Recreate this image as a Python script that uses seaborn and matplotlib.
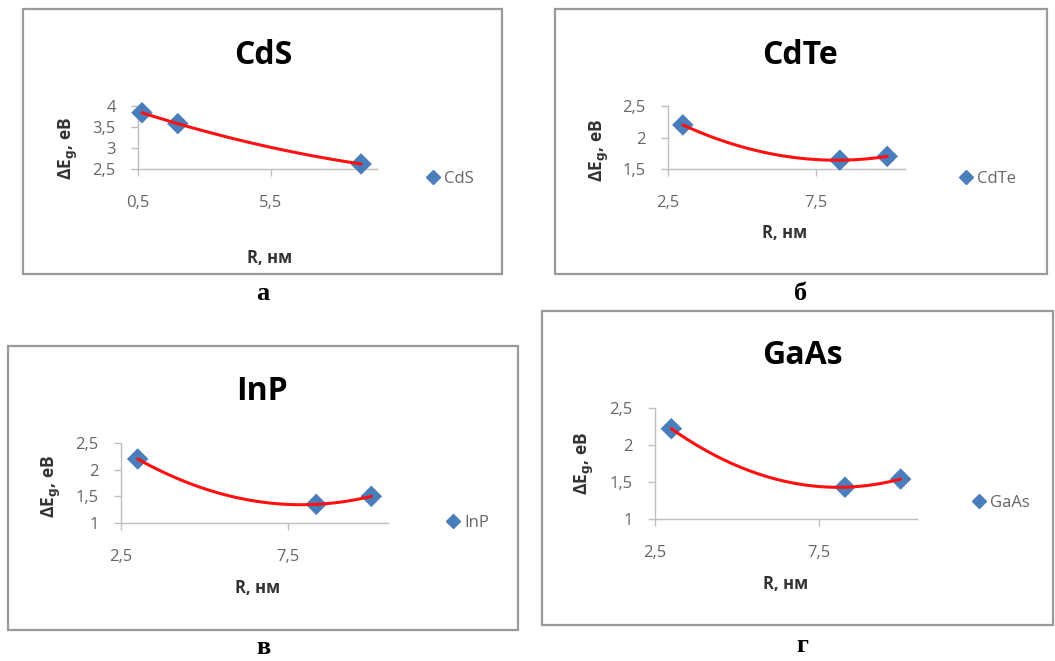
import numpy as np
import pandas as pd
import matplotlib
matplotlib.use("Agg")
import matplotlib.pyplot as plt
import seaborn as sns
from matplotlib.patches import Rectangle
from matplotlib.ticker import FuncFormatter
from matplotlib.lines import Line2D

# Dữ liệu
cds_r = [0.65, 2.0, 8.9]
cds_eg = [3.84, 3.58, 2.62]
cdte_r = [3.0, 8.3, 9.9]
cdte_eg = [2.20, 1.64, 1.70]
inp_r = [3.0, 8.35, 10.0]
inp_eg = [2.20, 1.35, 1.50]
gaas_r = [3.0, 8.3, 10.0]
gaas_eg = [2.22, 1.43, 1.54]

names = ["CdS", "CdTe", "InP", "GaAs"]
letters = ["а", "б", "в", "г"]
xticks = [[0.5, 5.5], [2.5, 7.5], [2.5, 7.5], [2.5, 7.5]]
yticks = [[2.5, 3, 3.5, 4], [1.5, 2, 2.5], [1, 1.5, 2, 2.5], [1, 1.5, 2, 2.5]]
xlims = [(0.5, 9.5), (2.5, 10.5), (2.5, 10.5), (2.5, 10.5)]

W, H = 1055, 661

sns.set_theme(style="white")
plt.rcParams["font.family"] = ["Open Sans", "DejaVu Sans"]

fig = plt.figure(figsize=(W / 100, H / 100), dpi=100)


def fx(x):
    return x / W


def fy(y):
    return 1 - y / H


# layout in pixels: box (l, t, r, b), axes (l, t, r, b), title, letter, legend, label coords
panels = [
    dict(box=(23, 9, 502, 274), ax=(138, 106, 377, 169), title=(263, 55), letter=(263, 293),
         leg=(426, 179), xl=(0.55, -1.41), yl=(-0.29, 0.33)),
    dict(box=(555, 9, 1047, 274), ax=(668, 106, 905, 169), title=(800, 55), letter=(801, 293),
         leg=(959, 179), xl=(0.49, -1.02), yl=(-0.29, 0.30)),
    dict(box=(8, 346, 518, 630), ax=(121, 443, 388, 523), title=(262, 392), letter=(263, 647),
         leg=(446, 523), xl=(0.51, -0.81), yl=(-0.26, 0.46)),
    dict(box=(542, 311, 1053, 625), ax=(655, 408, 917, 519), title=(802, 355), letter=(802, 645),
         leg=(972, 503), xl=(0.50, -0.59), yl=(-0.27, 0.50)),
]

data = [(cds_r, cds_eg), (cdte_r, cdte_eg), (inp_r, inp_eg), (gaas_r, gaas_eg)]

comma = FuncFormatter(lambda v, p: f"{v:g}".replace(".", ","))

for i, p in enumerate(panels):
    # khung viền
    l, t, r, b = p["box"]
    fig.patches.append(Rectangle((fx(l), fy(b)), fx(r - l), (b - t) / H,
                                 transform=fig.transFigure, fill=False,
                                 edgecolor="#9a9a9a", linewidth=1.6))

    l, t, r, b = p["ax"]
    ax = fig.add_axes([fx(l), fy(b), fx(r - l), (b - t) / H])
    df = pd.DataFrame({"R": data[i][0], "Eg": data[i][1]})

    # đường xu hướng bậc 2 + điểm
    sns.regplot(data=df, x="R", y="Eg", order=2, ci=None, scatter=False, ax=ax,
                line_kws=dict(color="#ff1010", lw=2.2, zorder=4))
    sns.scatterplot(data=df, x="R", y="Eg", marker="D", s=120, color="#4a7ebb",
                    edgecolor="none", ax=ax, legend=False, zorder=3, clip_on=False)

    ax.set_xlim(xlims[i])
    ax.set_ylim(yticks[i][0], yticks[i][-1])
    ax.set_xticks(xticks[i])
    ax.set_yticks(yticks[i])
    ax.xaxis.set_major_formatter(comma)
    ax.yaxis.set_major_formatter(comma)
    ax.tick_params(axis="both", direction="out", length=5, width=1, color="#bfbfbf",
                   labelcolor="#666666", labelsize=12)
    ax.tick_params(axis="x", pad=14, bottom=True)
    ax.tick_params(axis="y", pad=11, left=True)
    for s in ["top", "right"]:
        ax.spines[s].set_visible(False)
    for s in ["left", "bottom"]:
        ax.spines[s].set_color("#bfbfbf")
        ax.spines[s].set_linewidth(1)

    ax.set_xlabel("R, нм", fontsize=12, fontweight="bold", color="#333333", va="center")
    ax.xaxis.set_label_coords(*p["xl"])
    ax.set_ylabel(r"ΔE$_\mathbf{g}$, eB", fontsize=12.5, fontweight="bold", color="#333333",
                  va="center")
    ax.yaxis.set_label_coords(*p["yl"])

    # tiêu đề
    tx, ty = p["title"]
    fig.text(fx(tx), fy(ty), names[i], ha="center", va="center", fontsize=23,
             fontweight="bold", color="black")

    # chữ cái dưới khung
    lx, ly = p["letter"]
    fig.text(fx(lx), fy(ly), letters[i], ha="center", va="center", fontsize=19,
             fontweight="bold", family=["Liberation Serif", "DejaVu Serif"], color="black")

    # chú thích
    gx, gy = p["leg"]
    h = Line2D([], [], marker="D", linestyle="none", color="#4a7ebb", markersize=7)
    fig.legend(handles=[h], labels=[names[i]], loc="center left",
               bbox_to_anchor=(fx(gx), fy(gy)), frameon=False, fontsize=12,
               labelcolor="#666666", handlelength=0.8, handletextpad=0.3,
               borderpad=0, borderaxespad=0)

fig.savefig("out.png", dpi=100)
